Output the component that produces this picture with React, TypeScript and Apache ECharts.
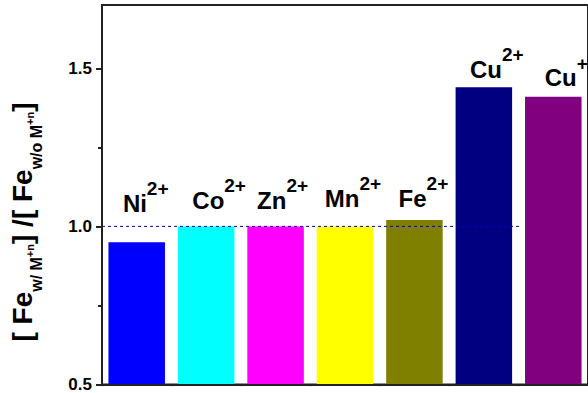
import React, { useEffect, useRef } from "react";
import * as echarts from "echarts";

// ---- data ----
const IONS = ["Ni", "Co", "Zn", "Mn", "Fe", "Cu", "Cu"];
const CHARGES = ["2+", "2+", "2+", "2+", "2+", "2+", "+"];
const RATIOS = [0.95, 1.0, 1.0, 1.0, 1.02, 1.44, 1.41];
const BAR_COLORS = ["#0000FF", "#00FFFF", "#FF00FF", "#FFFF00", "#808000", "#000080", "#800080"];
const Y_TICKS = [0.5, 1.0, 1.5];
const Y_MINOR_TICKS = [0.75, 1.25];
const REF_X = [0, 6.05];
const REF_Y = [1.0, 1.0];

// label nudges (layout only)
const LABEL_DX = [9, 13, 7, 8, 9, 13, 13];
const LABEL_DY = [27, 14, 14, 16, 10, 6, 7];

const FONT = "'Liberation Sans', Arial, sans-serif";

export default function App() {
  const ref = useRef<HTMLDivElement>(null);
  useEffect(() => {
    if (!ref.current) return;
    const chart = echarts.init(ref.current, null, { renderer: "svg" });
    const labelRich = {
      m: { fontSize: 24, fontWeight: "bold", color: "#000", fontFamily: FONT, lineHeight: 24, verticalAlign: "bottom" },
      s: { fontSize: 19, fontWeight: "bold", color: "#000", fontFamily: FONT, lineHeight: 19, verticalAlign: "bottom", padding: [0, 0, 17, 0] },
    };
    const titleRich = {
      b: { fontSize: 28, fontWeight: "bold", color: "#000", fontFamily: FONT, lineHeight: 28, verticalAlign: "bottom", padding: [0, 0, 8, 0] },
      u: { fontSize: 16, fontWeight: "bold", color: "#000", fontFamily: FONT, lineHeight: 16, verticalAlign: "bottom" },
      p: { fontSize: 11, fontWeight: "bold", color: "#000", fontFamily: FONT, lineHeight: 11, verticalAlign: "bottom", padding: [0, 0, 9, 0] },
    };
    const option: any = {
      animation: false,
      grid: {
        left: 102, top: 5, bottom: 7, right: -4,
        show: true, borderColor: "#222", borderWidth: 2, backgroundColor: "transparent",
      },
      xAxis: [
        {
          type: "category",
          z: 5,
          data: IONS.map((n, i) => n + CHARGES[i]),
          axisLine: { lineStyle: { color: "#222", width: 2 } },
          axisTick: { alignWithLabel: true, inside: true, length: 8, lineStyle: { color: "#222", width: 2 } },
          axisLabel: { show: false },
          splitLine: { show: false },
        },
        {
          type: "value", min: 0, max: 7, interval: 1, position: "bottom",
          axisLine: { show: false },
          axisTick: { show: true, length: 2, lineStyle: { color: "#bbb", width: 1 } },
          axisLabel: { show: false },
          splitLine: { show: false },
        },
      ],
      yAxis: [
        {
          type: "value", min: 0.5, max: 1.7, interval: 0.5,
          axisLine: { show: true, lineStyle: { color: "#222", width: 2 } },
          axisTick: { show: true, length: 6, customValues: Y_TICKS, lineStyle: { color: "#222", width: 2 } },
          axisLabel: {
            customValues: Y_TICKS, margin: 10, fontSize: 17, fontWeight: "bold", color: "#000", fontFamily: FONT,
            formatter: (v: number) => v.toFixed(1),
          },
          splitLine: { show: false },
        },
        {
          type: "value", min: 0.5, max: 1.7, interval: 0.25, position: "left",
          axisLine: { show: false },
          axisTick: { show: true, length: 4, customValues: Y_MINOR_TICKS, lineStyle: { color: "#222", width: 2 } },
          axisLabel: { show: false },
          splitLine: { show: false },
        },
      ],
      series: [
        {
          type: "bar",
          xAxisIndex: 0,
          yAxisIndex: 0,
          barCategoryGap: "18.6%",
          data: RATIOS.map((v, i) => ({
            value: v,
            itemStyle: { color: BAR_COLORS[i] },
            label: {
              show: true, position: "top", distance: 0,
              offset: [LABEL_DX[i], -LABEL_DY[i]],
              formatter: `{m|${IONS[i]}}{s|${CHARGES[i]}}`,
              rich: labelRich,
            },
          })),
        },
        {
          type: "line",
          xAxisIndex: 1,
          yAxisIndex: 0,
          symbol: "none",
          data: REF_X.map((x, i) => [x, REF_Y[i]]),
          lineStyle: { color: "#0000BB", width: 1, type: [3, 3] },
          z: 5,
        },
      ],
      graphic: [
        {
          type: "text",
          x: 30, y: 222,
          rotation: Math.PI / 2,
          style: {
            text: "{b|[ Fe}{u|w/ M}{p|+n}{b|] /[ Fe}{u|w/o M}{p|+n}{b|]}",
            rich: titleRich,
            align: "center",
            verticalAlign: "middle",
          },
        },
      ],
    };
    chart.setOption(option);
    return () => chart.dispose();
  }, []);
  return (
    <div
      ref={ref}
      style={{ position: "fixed", left: 0, top: 0, width: 588, height: 393, background: "#fff" }}
    />
  );
}
